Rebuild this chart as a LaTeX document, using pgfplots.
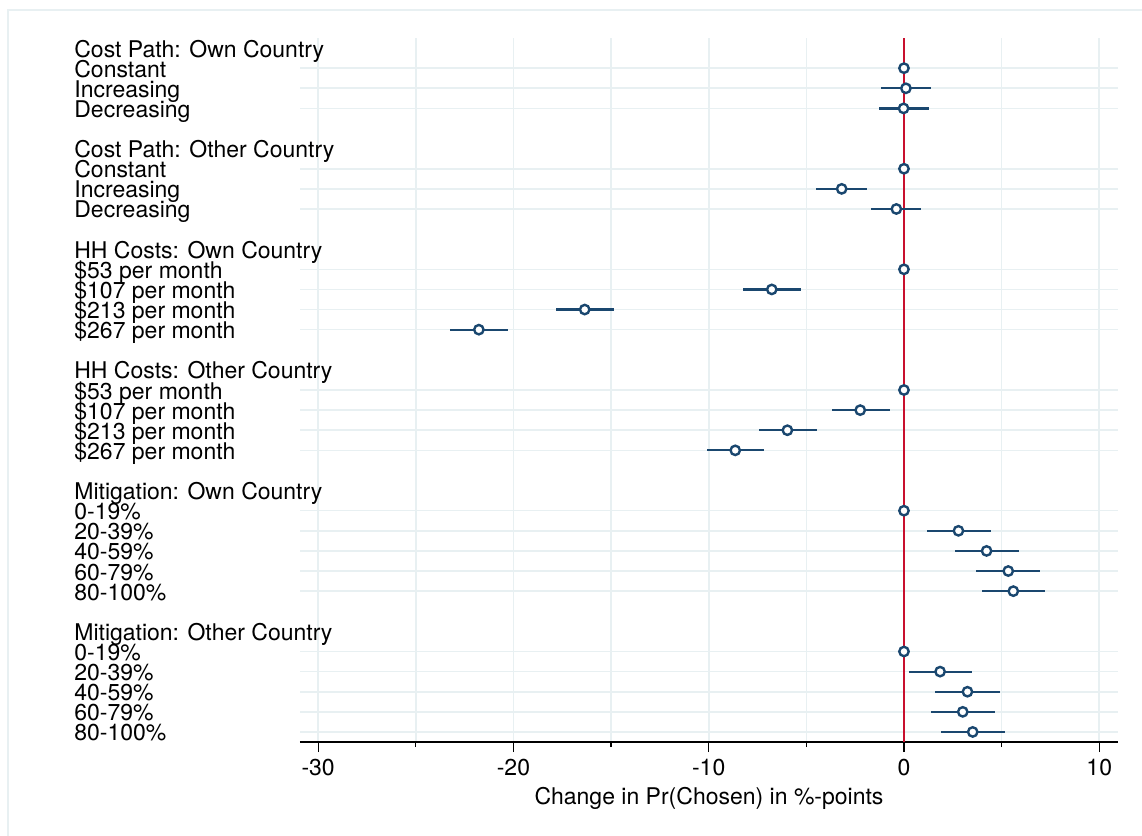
\documentclass[border=0pt]{standalone}
\usepackage{fontspec}
\setmainfont{TeX Gyre Heros}
\usepackage{pgfplots}
\usepackage{pgfplotstable}
\pgfplotsset{compat=1.18}
\definecolor{statanavy}{RGB}{26,71,111}
\definecolor{statared}{RGB}{200,16,46}
\definecolor{gridblue}{RGB}{232,240,242}

% row = position from top, b = estimate, lo/hi = interval ends
\pgfplotstableread{
row b lo hi
1 0 0 0
2 0.10 -1.20 1.38
3 -0.02 -1.28 1.28
6 0 0 0
7 -3.19 -4.48 -1.91
8 -0.39 -1.67 0.89
11 0 0 0
12 -6.77 -8.22 -5.29
13 -16.35 -17.80 -14.85
14 -21.77 -23.24 -20.29
17 0 0 0
18 -2.24 -3.68 -0.73
19 -5.97 -7.43 -4.47
20 -8.64 -10.11 -7.15
23 0 0 0
24 2.79 1.16 4.44
25 4.23 2.63 5.87
26 5.34 3.71 6.99
27 5.60 3.99 7.24
30 0 0 0
31 1.85 0.26 3.50
32 3.25 1.60 4.90
33 3.01 1.36 4.66
34 3.52 1.90 5.15
}\coefs

\begin{document}
\begin{tikzpicture}
\useasboundingbox (-150pt,-47pt) rectangle (421pt,371pt);
% light frame of the graph region
\draw[gridblue, line width=0.7pt] (-146pt,-47pt) -- (-146pt,366pt) -- (421pt,366pt);
\begin{axis}[
  scale only axis,
  width=409pt, height=352pt,
  xmin=-30.93, xmax=10.96,
  ymin=-0.5, ymax=34.5,
  y dir=reverse,
  axis x line*=bottom,
  axis y line*=left,
  y axis line style={draw=none},
  x axis line style={line width=0.65pt, black},
  xtick={-30,-20,-10,0,10},
  xticklabels={-30,-20,-10,0,10},
  minor xtick={-25,-15,-5,5},
  tick align=outside,
  major tick length=5pt,
  minor tick length=2.5pt,
  x tick style={line width=0.65pt, black},
  y tick style={draw=none},
  xmajorgrids, xminorgrids, ymajorgrids,
  grid style={line width=0.8pt, gridblue},
  minor grid style={line width=0.8pt, gridblue},
  ytick={1,2,3,6,7,8,11,12,13,14,17,18,19,20,23,24,25,26,27,30,31,32,33,34},
  yticklabels={Constant,Increasing,Decreasing,
    Constant,Increasing,Decreasing,
    \$53 per month,\$107 per month,\$213 per month,\$267 per month,
    \$53 per month,\$107 per month,\$213 per month,\$267 per month,
    0-19\%,20-39\%,40-59\%,60-79\%,80-100\%,
    0-19\%,20-39\%,40-59\%,60-79\%,80-100\%},
  extra y ticks={0,5,10,16,22,29},
  extra y tick labels={Cost Path: Own Country,Cost Path: Other Country,
    HH Costs: Own Country,HH Costs: Other Country,
    Mitigation: Own Country,Mitigation: Other Country},
  extra y tick style={grid=none},
  yticklabel style={anchor=base west, xshift=-108pt, yshift=-4.5pt, inner sep=0pt},
  tick label style={font=\fontsize{11.5}{12}\selectfont},
  xlabel={Change in Pr(Chosen) in \%-points},
  xlabel style={yshift=1pt},
  label style={font=\fontsize{11.5}{12}\selectfont},
  clip=true,
]
\addplot[statared, line width=1.3pt, forget plot] coordinates {(0,-0.5) (0,34.5)};
\addplot[only marks, mark=none,
  error bars/.cd, x dir=both, x explicit,
  error mark=none,
  error bar style={line width=1.1pt, statanavy}]
  table[x=b, y=row,
    x error plus expr=\thisrow{hi}-\thisrow{b},
    x error minus expr=\thisrow{b}-\thisrow{lo}] {\coefs};
\addplot[only marks, mark=*, mark size=2.35pt,
  mark options={fill=white, draw=statanavy, line width=1.2pt}]
  table[x=b, y=row] {\coefs};
\end{axis}
\end{tikzpicture}
\end{document}
